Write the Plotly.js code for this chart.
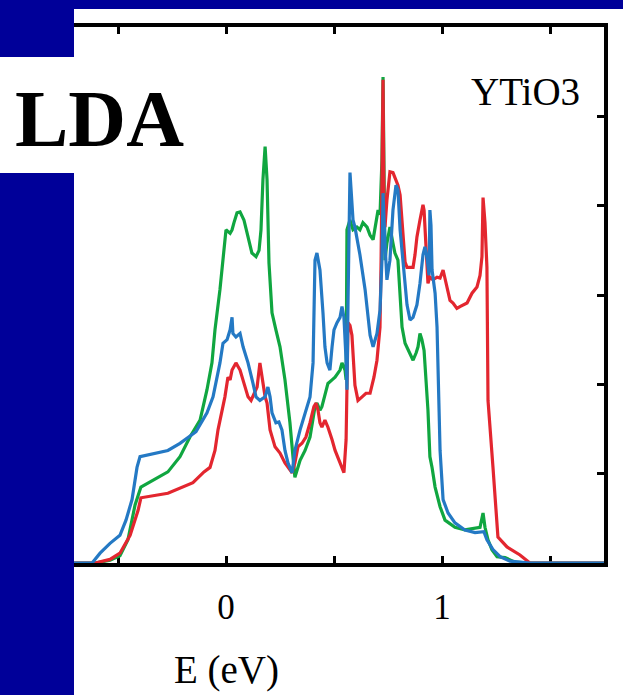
<!DOCTYPE html>
<html>
<head>
<meta charset="utf-8">
<script src="https://cdn.plot.ly/plotly-3.0.1.min.js"></script>
<style>
  html, body { margin: 0; padding: 0; background: #ffffff; }
  #chart { width: 623px; height: 695px; }
</style>
</head>
<body>
<div id="chart"></div>
<script>
// ---- data (E in eV, DOS in arbitrary units) ----
const eGreen = [-0.704,-0.606,-0.537,-0.491,-0.454,-0.421,-0.394,-0.269,-0.213,-0.167,-0.120,-0.088,-0.065,-0.051,-0.028,-0.014,0,0.019,0.028,0.037,0.051,0.065,0.083,0.102,0.120,0.139,0.153,0.162,0.171,0.181,0.190,0.199,0.213,0.231,0.250,0.273,0.296,0.310,0.319,0.343,0.366,0.389,0.403,0.412,0.421,0.435,0.444,0.458,0.472,0.491,0.505,0.528,0.537,0.551,0.556,0.560,0.574,0.588,0.606,0.620,0.634,0.653,0.667,0.681,0.694,0.704,0.713,0.722,0.727,0.731,0.736,0.745,0.759,0.773,0.782,0.796,0.806,0.815,0.829,0.843,0.852,0.866,0.880,0.889,0.898,0.907,0.917,0.926,0.935,0.944,0.954,0.968,0.991,1.014,1.060,1.106,1.153,1.176,1.190,1.199,1.213,1.231,1.255,1.292,1.338,1.407,1.750];
const dosGreen = [0,0,0.03,0.08,0.26,0.65,0.85,1.02,1.19,1.41,1.60,1.94,2.24,2.61,3.06,3.36,3.73,3.69,3.73,3.81,3.92,3.93,3.84,3.65,3.47,3.43,3.50,3.73,4.29,4.66,4.29,3.36,2.80,2.61,2.42,2.05,1.57,1.19,0.96,1.15,1.26,1.41,1.60,1.75,1.79,1.71,1.75,1.90,2.01,2.05,2.08,2.16,2.24,2.16,2.05,3.73,3.84,3.73,3.76,3.73,3.81,3.76,3.67,3.62,3.81,3.95,3.90,4.51,5.44,4.06,3.39,3.58,3.76,3.58,3.47,3.39,3.02,2.64,2.46,2.38,2.35,2.27,2.35,2.42,2.57,2.50,2.38,2.08,1.71,1.19,1.07,0.85,0.63,0.48,0.40,0.37,0.39,0.40,0.56,0.40,0.26,0.15,0.07,0.06,0.01,0,0];

const eRed = [-0.704,-0.606,-0.537,-0.491,-0.444,-0.407,-0.394,-0.269,-0.153,-0.102,-0.074,-0.051,-0.037,-0.019,-0.005,0.009,0.019,0.028,0.046,0.065,0.083,0.102,0.116,0.130,0.144,0.157,0.171,0.181,0.190,0.204,0.227,0.250,0.273,0.296,0.306,0.319,0.333,0.352,0.370,0.389,0.407,0.417,0.426,0.435,0.444,0.458,0.472,0.491,0.505,0.528,0.546,0.556,0.560,0.565,0.574,0.583,0.597,0.611,0.630,0.648,0.667,0.685,0.699,0.713,0.718,0.722,0.727,0.731,0.736,0.745,0.759,0.773,0.782,0.796,0.806,0.819,0.829,0.838,0.852,0.866,0.875,0.884,0.898,0.912,0.917,0.926,0.935,0.944,0.958,0.977,0.991,1.005,1.037,1.051,1.069,1.083,1.116,1.139,1.162,1.176,1.185,1.190,1.199,1.208,1.213,1.236,1.259,1.301,1.361,1.407,1.750];
const dosRed = [0,0,0.04,0.11,0.31,0.59,0.73,0.78,0.90,1.02,1.07,1.26,1.49,1.68,1.86,2.08,2.05,2.16,2.24,2.16,2.01,1.86,1.82,1.90,1.97,2.24,2.01,1.86,1.79,1.49,1.30,1.23,1.12,1.04,1.01,1.12,1.30,1.34,1.41,1.57,1.75,1.79,1.71,1.57,1.52,1.60,1.52,1.38,1.26,1.12,1.01,1.38,2.27,2.69,2.66,2.55,1.99,1.82,1.86,1.90,1.90,2.08,2.27,2.64,3.39,4.51,5.41,4.14,3.76,4.06,4.38,4.37,4.32,4.23,4.12,3.65,3.37,3.31,3.31,3.31,3.45,3.65,3.84,4.01,3.95,3.58,3.13,3.20,3.17,3.20,3.19,3.28,2.94,2.91,2.85,2.87,2.91,3.02,3.09,3.22,3.43,4.09,3.81,3.31,1.82,1.07,0.29,0.18,0.09,0,0];

const eBlue = [-0.704,-0.620,-0.583,-0.537,-0.491,-0.463,-0.435,-0.412,-0.398,-0.269,-0.213,-0.139,-0.088,-0.060,-0.028,-0.014,0.005,0.019,0.028,0.032,0.046,0.065,0.079,0.102,0.125,0.139,0.157,0.181,0.194,0.204,0.213,0.231,0.245,0.259,0.273,0.287,0.306,0.319,0.343,0.366,0.389,0.403,0.407,0.412,0.421,0.435,0.449,0.458,0.468,0.481,0.491,0.500,0.514,0.528,0.537,0.546,0.556,0.560,0.565,0.574,0.588,0.597,0.620,0.644,0.667,0.681,0.699,0.713,0.722,0.727,0.736,0.745,0.759,0.773,0.787,0.796,0.806,0.819,0.838,0.852,0.866,0.884,0.898,0.912,0.921,0.931,0.940,0.944,0.949,0.954,0.968,0.977,0.981,0.991,1.005,1.028,1.060,1.106,1.153,1.194,1.208,1.236,1.269,1.315,1.407,1.750];
const dosBlue = [0,0,0.11,0.22,0.31,0.48,0.71,1.07,1.19,1.26,1.34,1.47,1.68,1.86,2.24,2.46,2.50,2.61,2.75,2.57,2.53,2.57,2.42,2.24,2.01,1.86,1.82,1.86,1.97,1.86,1.68,1.57,1.58,1.49,1.26,1.12,1.01,1.26,1.49,1.68,1.86,2.24,2.80,3.39,3.47,3.28,2.80,2.42,2.24,2.16,2.42,2.61,2.69,2.75,2.87,2.75,2.27,1.94,2.94,4.37,3.84,3.76,3.45,3.06,2.55,2.42,2.57,2.83,3.39,4.14,3.58,3.17,3.39,3.95,4.23,4.18,3.73,3.39,2.89,2.72,2.75,2.89,3.13,3.45,3.54,3.41,3.22,3.95,3.78,3.28,3.02,2.64,2.19,1.26,0.71,0.56,0.45,0.37,0.34,0.35,0.26,0.15,0.07,0.02,0,0];

const xTickVals = [-0.5, 0, 0.5, 1, 1.5];
const xTickText = ['', '0', '', '1', ''];
const yTickVals = [1, 2, 3, 4, 5];

const titleText = 'YTiO3';
const methodText = 'LDA';
const xAxisLabel = 'E (eV)';

// ---- layout geometry (pixels) ----
const W = 623, H = 695;
const mL = 74, mR = 19, mT = 27, mB = 132;
const pw = W - mL - mR, ph = H - mT - mB;
const px = v => (v - mL) / pw;          // pixel x -> paper x
const py = v => (H - mB - v) / ph;      // pixel y -> paper y
const NAVY = '#000099';

const lineW = 3.2;
const traces = [
  { x: eGreen, y: dosGreen, mode: 'lines', line: { color: '#10a640', width: lineW }, hoverinfo: 'skip' },
  { x: eRed,   y: dosRed,   mode: 'lines', line: { color: '#e3262f', width: lineW }, hoverinfo: 'skip' },
  { x: eBlue,  y: dosBlue,  mode: 'lines', line: { color: '#2479c4', width: lineW }, hoverinfo: 'skip' }
];

const serif = "'Liberation Serif', 'Times New Roman', serif";

const layout = {
  width: W, height: H,
  margin: { l: mL, r: mR, t: mT, b: mB, pad: 0 },
  paper_bgcolor: '#ffffff',
  plot_bgcolor: '#ffffff',
  showlegend: false,
  xaxis: {
    range: [(mL - 226) / 216, (W - mR - 226) / 216],
    showgrid: false, zeroline: false,
    showline: true, linecolor: '#000', linewidth: 4,
    mirror: 'ticks',
    ticks: 'inside', ticklen: 7, tickwidth: 3, tickcolor: '#000',
    tickvals: xTickVals, ticktext: xTickText,
    tickfont: { family: serif, size: 35, color: '#000' },
    ticklabelstandoff: 10,
    layer: 'below traces',
    fixedrange: true
  },
  yaxis: {
    range: [0, 6],
    side: 'right',
    showgrid: false, zeroline: false,
    showline: true, linecolor: '#000', linewidth: 4,
    ticks: 'inside', ticklen: 7, tickwidth: 3, tickcolor: '#000',
    tickvals: yTickVals,
    showticklabels: false,
    layer: 'below traces',
    fixedrange: true
  },
  shapes: [
    { type: 'rect', xref: 'paper', yref: 'paper', x0: px(0), x1: px(W), y0: py(9), y1: py(0), fillcolor: NAVY, line: { width: 0 }, layer: 'above' },
    { type: 'rect', xref: 'paper', yref: 'paper', x0: px(0), x1: px(74), y0: py(57), y1: py(9), fillcolor: NAVY, line: { width: 0 }, layer: 'above' },
    { type: 'rect', xref: 'paper', yref: 'paper', x0: px(0), x1: px(74), y0: py(H), y1: py(173), fillcolor: NAVY, line: { width: 0 }, layer: 'above' }
  ],
  annotations: [
    { text: '<b>' + methodText + '</b>', xref: 'paper', yref: 'paper', x: px(14), y: py(119),
      xanchor: 'left', yanchor: 'middle', showarrow: false, borderpad: 0,
      font: { family: serif, size: 80, color: '#000' } },
    { text: titleText, xref: 'paper', yref: 'paper', x: px(581), y: py(91),
      xanchor: 'right', yanchor: 'middle', showarrow: false, borderpad: 0,
      font: { family: serif, size: 39, color: '#000' } },
    { text: xAxisLabel, xref: 'x', yref: 'paper', x: 0, y: py(670),
      xanchor: 'center', yanchor: 'middle', showarrow: false, borderpad: 0,
      font: { family: serif, size: 39, color: '#000' } }
  ]
};

Plotly.newPlot('chart', traces, layout, { staticPlot: true, displayModeBar: false });
</script>
</body>
</html>
